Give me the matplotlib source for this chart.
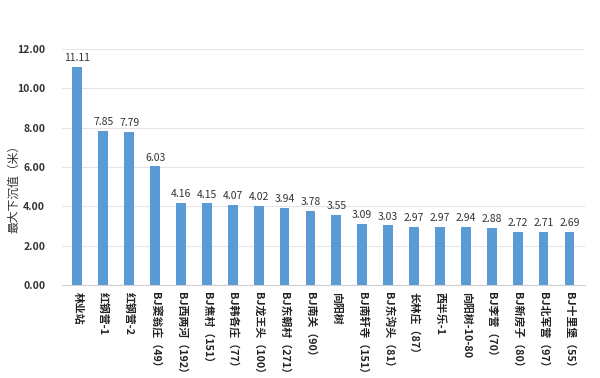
import matplotlib
matplotlib.use("Agg")
import matplotlib.pyplot as plt

plt.rcParams['font.family'] = ['Noto Sans CJK SC', 'DejaVu Sans']

categories = ["林业站", "红钢营-1", "红钢营-2", "BJ窦翁庄（49）", "BJ西两河（192）", "BJ焦村（151）",
              "BJ韩各庄（77）", "BJ龙王头（100）", "BJ东朝村（271）", "BJ南关（90）", "向阳树",
              "BJ南轩寺（151）", "BJ东沟头（81）", "长林庄（87）", "西半乐-1", "向阳树-10-80",
              "BJ李营（70）", "BJ新房子（80）", "BJ北军营（97）", "BJ十里堡（55）"]
values = [11.11, 7.85, 7.79, 6.03, 4.16, 4.15, 4.07, 4.02, 3.94, 3.78, 3.55,
          3.09, 3.03, 2.97, 2.97, 2.94, 2.88, 2.72, 2.71, 2.69]
yticks = [0, 2, 4, 6, 8, 10, 12]
ylabel = "最大下沉值（米）"

fig = plt.figure(figsize=(6, 3.78), dpi=100)
ax = fig.add_axes([0.103, 0.246, 0.872, 0.624])
x = range(len(categories))
ax.bar(x, values, width=0.38, color="#5B9BD5", zorder=3)
for xi, v in zip(x, values):
    ax.text(xi, v + 0.2, f"{v:.2f}", ha="center", va="bottom", fontsize=7.5, color="#333333")

ax.set_ylim(0, 12)
ax.set_xlim(-0.6, len(categories) - 0.4)
ax.set_yticks(yticks)
ax.set_yticklabels([f"{t:.2f}" for t in yticks], fontsize=7.5, fontweight="bold", color="#333333")
ax.set_xticks(list(x))
ax.set_xticklabels(categories, rotation=270, fontsize=7.8, fontweight="bold", color="#222222", va="top", ha="center")
ax.tick_params(axis="y", length=0, pad=12)
ax.tick_params(axis="x", length=0, pad=5)
ax.grid(axis="y", color="#E6E6E6", linewidth=0.8, zorder=0)
for s in ["top", "right", "left"]:
    ax.spines[s].set_visible(False)
ax.spines["bottom"].set_color("#D0D0D0")
ax.set_ylabel(ylabel, fontsize=8.5, color="#333333")
ax.yaxis.set_label_coords(-0.08, 0.42)

fig.savefig("out.png", dpi=100)
